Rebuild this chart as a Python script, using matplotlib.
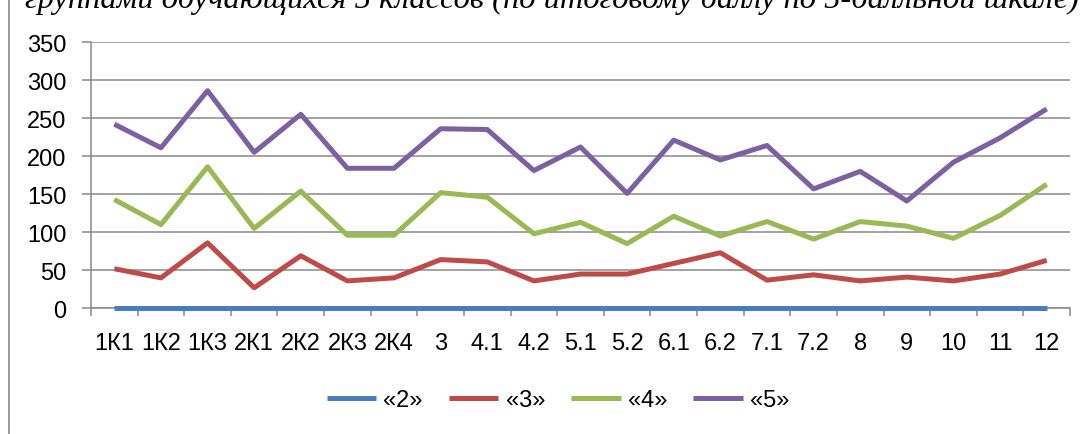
import matplotlib
matplotlib.use("Agg")
import matplotlib.pyplot as plt
from matplotlib.patches import Rectangle
import numpy as np

categories = ["1К1", "1К2", "1К3", "2К1", "2К2", "2К3", "2К4", "3", "4.1", "4.2",
              "5.1", "5.2", "6.1", "6.2", "7.1", "7.2", "8", "9", "10", "11", "12"]
grade2 = [0] * 21
grade3 = [52, 40, 86, 27, 69, 36, 40, 64, 61, 36, 45, 45, 59, 73, 37, 44, 36, 41, 36, 45, 63]
grade4 = [143, 110, 186, 105, 154, 96, 96, 152, 146, 98, 113, 85, 121, 95, 114, 91, 114, 108, 92, 122, 163]
grade5 = [242, 211, 286, 205, 255, 184, 184, 236, 235, 181, 212, 151, 221, 195, 214, 157, 180, 141, 192, 224, 262]
series_names = ["«2»", "«3»", "«4»", "«5»"]
colors = ["#4A7EBB", "#BE4B48", "#98B954", "#7D60A0"]
title = "группами обучающихся 5 классов (по итоговому баллу по 5-балльной шкале)"

plt.rcParams['font.family'] = ['Liberation Sans Narrow', 'Liberation Sans', 'DejaVu Sans']
grey = "#898989"
fs = 17

fig = plt.figure(figsize=(10.87, 4.35), dpi=100)
ax = fig.add_axes([91 / 1087, 1 - 309.3 / 435, (1070 - 91) / 1087, (309.3 - 43) / 435])

x = np.arange(len(categories))
for vals, name, c in zip([grade2, grade3, grade4, grade5], series_names, colors):
    ax.plot(x, vals, color=c, lw=3.6, label=name, solid_capstyle='butt', clip_on=False, zorder=3)

ax.set_xlim(-0.5, len(categories) - 0.5)
ax.set_ylim(0, 350)
ax.set_yticks(np.arange(0, 351, 50))
ax.yaxis.grid(True, color=grey, lw=1.1)
ax.set_axisbelow(True)

ax.set_xticks(x)
ax.set_xticklabels(categories)
ax.set_xticks(np.arange(-0.5, len(categories)), minor=True)
ax.tick_params(axis='x', which='major', length=0, pad=17, labelsize=fs)
ax.tick_params(axis='x', which='minor', length=5.5, width=1.1, color=grey)
ax.tick_params(axis='y', length=6.5, width=1.1, color=grey, pad=11, labelsize=fs)

for s in ['top', 'right']:
    ax.spines[s].set_visible(False)
for s in ['left', 'bottom']:
    ax.spines[s].set_color(grey)
    ax.spines[s].set_linewidth(1.1)

fig.legend(loc='center', bbox_to_anchor=(558 / 1087, 1 - 401 / 435), ncol=4, frameon=False,
           fontsize=fs, handlelength=2.1, handletextpad=0.3, columnspacing=1.1)

fig.patches.append(Rectangle((9 / 1087, -0.2), 1.2, 1.2 + (1 - 13 / 435), transform=fig.transFigure,
                             fill=False, edgecolor=grey, lw=1.2))

fig.text(552 / 1087, 1 - 8 / 435, title, ha='center', va='baseline',
         family='Liberation Serif', style='italic', fontsize=23.4)

fig.savefig("out.png", dpi=100)
